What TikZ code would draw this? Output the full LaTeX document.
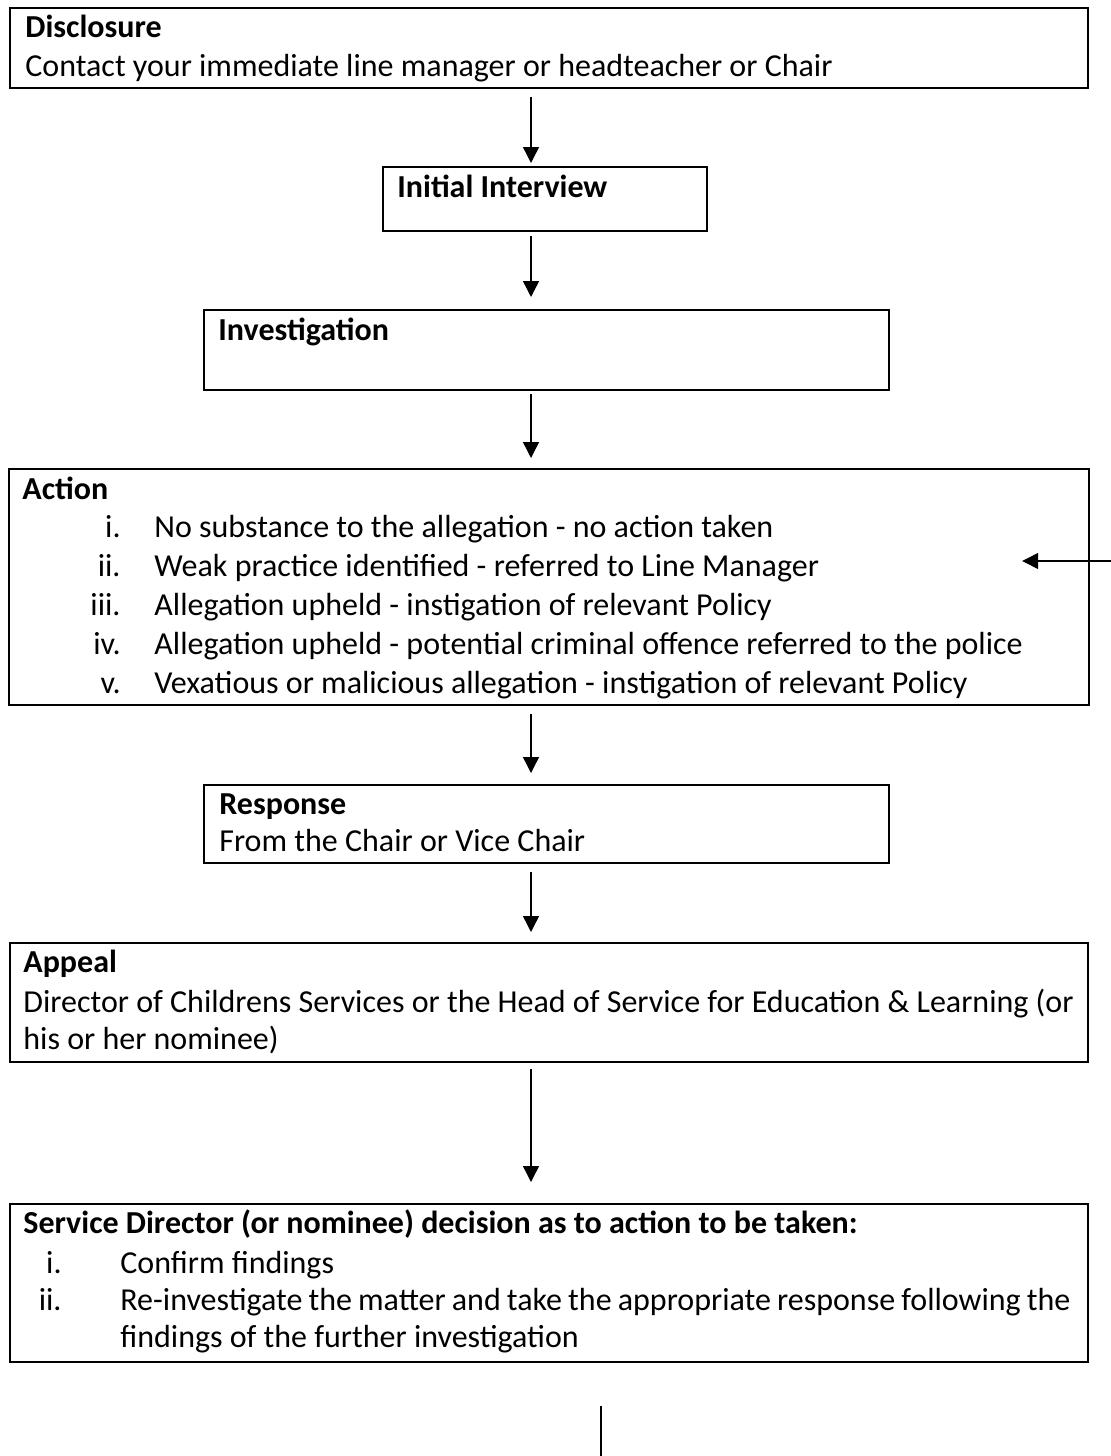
\documentclass[tikz,border=0pt]{standalone}
\usepackage{fontspec}
\setmainfont{Carlito}
\usetikzlibrary{arrows.meta}

\begin{document}
\begin{tikzpicture}[x=0.5pt,y=-0.5pt,
  flow box/.style={draw,line width=1.1pt,rectangle,inner sep=0pt,anchor=north west},
  body text/.style={anchor=base west,inner sep=0pt,font=\fontsize{16}{19}\selectfont},
  title text/.style={body text,font=\fontsize{16}{19}\selectfont\bfseries},
  item num/.style={anchor=base east,inner sep=0pt,font=\fontsize{16}{19}\selectfont},
  link/.style={line width=0.7pt,-{Triangle[width=8pt,length=8pt]}}]

  \useasboundingbox (0,0) rectangle (1111,1456);

  % boxes
  \node[flow box,minimum width=539pt,minimum height=40pt] (disc) at (9,7) {};
  \node[flow box,minimum width=162pt,minimum height=32pt] (init) at (382,166) {};
  \node[flow box,minimum width=342.5pt,minimum height=40pt] (inv) at (203,309) {};
  \node[flow box,minimum width=540pt,minimum height=118pt] (act) at (8,468) {};
  \node[flow box,minimum width=342.5pt,minimum height=39pt] (resp) at (203,784) {};
  \node[flow box,minimum width=539pt,minimum height=59.5pt] (appeal) at (9,942) {};
  \node[flow box,minimum width=539pt,minimum height=79pt] (serv) at (9,1203) {};

  % texts
  \node[title text] (discT) at (25,38) {Disclosure};
  \node[body text] (discL) at (25,76) {Contact your immediate line manager or headteacher or Chair};
  \node[title text] (initT) at (397,197) {Initial Interview};
  \node[title text] (invT) at (218,340) {Investigation};
  \node[title text] (actT) at (22,499) {Action};
  \foreach \n/\t [count=\k] in {i./No substance to the allegation - no action taken,
      ii./Weak practice identified - referred to Line Manager,
      iii./Allegation upheld - instigation of relevant Policy,
      iv./Allegation upheld - potential criminal offence referred to the police,
      v./Vexatious or malicious allegation - instigation of relevant Policy}
  {
    \node[item num] (actN\k) at (121,{499+38.8*\k}) {\n};
    \node[body text] (actI\k) at (154,{499+38.8*\k}) {\t};
  }
  \node[title text] (respT) at (219,814) {Response};
  \node[body text] (respL) at (219,851) {From the Chair or Vice Chair};
  \node[title text] (appealT) at (23,972) {Appeal};
  \node[body text] (appealL1) at (23,1012) {Director of Childrens Services or the Head of Service for Education \& Learning (or};
  \node[body text] (appealL2) at (23,1049) {his or her nominee)};
  \node[title text] (servT) at (23,1233) {Service Director (or nominee) decision as to action to be taken:};
  \node[item num] (servN1) at (62,1273) {i.};
  \node[body text] (servI1) at (120,1273) {Confirm findings};
  \node[item num] (servN2) at (62,1310) {ii.};
  \node[body text] (servI2) at (120,1310) {\makebox[475pt][s]{Re-investigate the matter and take the appropriate response following the}};
  \node[body text] (servI3) at (120,1347) {findings of the further investigation};

  % connectors
  \coordinate (col) at (531,0);
  \coordinate (side) at (1112,561);
  \coordinate (tail) at (601,1460);
  \draw[link,shorten <=4pt,shorten >=1.5pt] (disc.south -| col) -- (init.north -| col);
  \draw[link,shorten <=2pt,shorten >=6pt] (init.south -| col) -- (inv.north -| col);
  \draw[link,shorten <=1.5pt,shorten >=5pt] (inv.south -| col) -- (act.north -| col);
  \draw[link,shorten <=4pt,shorten >=5.5pt] (act.south -| col) -- (resp.north -| col);
  \draw[link,shorten <=4pt,shorten >=5pt] (resp.south -| col) -- (appeal.north -| col);
  \draw[link,shorten <=3pt,shorten >=10.5pt] (appeal.south -| col) -- (serv.north -| col);
  \draw[link] (side) -- ([xshift=-34pt]act.east |- side);
  \draw[line width=0.7pt,shorten <=21.5pt] (serv.south -| tail) -- (tail);
\end{tikzpicture}
\end{document}
